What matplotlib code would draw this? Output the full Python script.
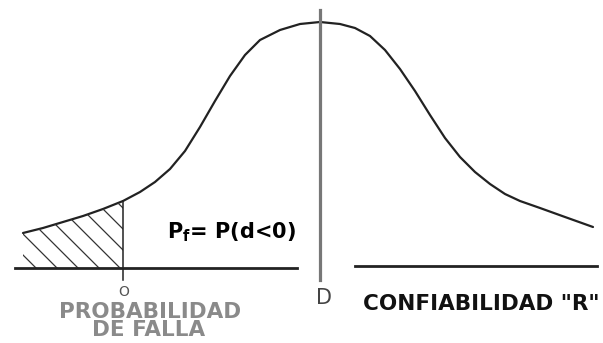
import matplotlib.pyplot as plt
import numpy as np
from matplotlib.patches import Polygon

# margin of safety d = R - S, measured from the failure point (d = 0)
d_curve = [-100, -80, -60, -40, -20, 0, 17, 32, 47, 62, 77, 92, 107, 122,
           137, 157, 177, 197, 217, 232, 247, 262, 277, 292, 307, 322, 337,
           352, 367, 382, 397, 417, 442, 470]
f_curve = [35, 40, 46, 52, 59, 67, 76, 86, 99, 117, 141, 167, 192, 213,
           228, 238, 244, 246, 244, 240, 232, 218, 199, 177, 153, 130, 111,
           96, 84, 74, 67, 60, 51, 41]
d_mean = 197
d_fail = 0

fig = plt.figure(figsize=(6.03, 3.43), dpi=100)
ax = fig.add_axes([0, 0, 1, 1])
ax.set_xlim(-123, 480)
ax.set_ylim(-75, 268)
ax.axis("off")

d = np.array(d_curve)
f = np.array(f_curve)

# curve
ax.plot(d, f, color="#222222", lw=1.6, solid_joinstyle="round",
        solid_capstyle="round")

# failure region: diagonal hatch clipped to the area under the curve
mask = d <= d_fail
verts = list(zip(d[mask], f[mask])) + [(d_fail, 0), (d[mask][0], 0)]
region = Polygon(verts, closed=True, facecolor="none", edgecolor="none")
ax.add_patch(region)
for c in np.arange(-150, 80, 21):
    ln, = ax.plot([c - 120, c], [120, 0], color="#333333", lw=0.9)
    ln.set_clip_path(region)

# base lines
ax.plot([-108, 174], [0, 0], color="#222222", lw=2.0)
ax.plot([232, 474], [2.5, 2.5], color="#222222", lw=2.0)

# vertical markers
ax.plot([d_fail, d_fail], [f[mask][-1], -12], color="#222222", lw=1.1)
ax.plot([d_mean, d_mean], [258, -12], color="#777777", lw=2.3)

# labels
ax.text(d_fail + 1, -24, "O", ha="center", va="center", fontsize=10,
        color="#555555")
ax.text(d_mean + 4, -30, "D", ha="center", va="center", fontsize=15,
        color="#444444")
ax.text(27, -43.5, "PROBABILIDAD", ha="center", va="center", fontsize=15.5,
        fontweight="bold", color="#8a8a8a")
ax.text(25.5, -61.5, "DE FALLA", ha="center", va="center", fontsize=15.5,
        fontweight="bold", color="#8a8a8a")
ax.text(358, -36.5, 'CONFIABILIDAD "R"', ha="center", va="center",
        fontsize=15.5, fontweight="bold", color="#111111")
ax.text(108, 36, r"P$_{\mathbf{f}}$= P(d<0)", ha="center", va="center",
        fontsize=15, fontweight="bold", color="#000000")

plt.savefig("out.png", dpi=100)
